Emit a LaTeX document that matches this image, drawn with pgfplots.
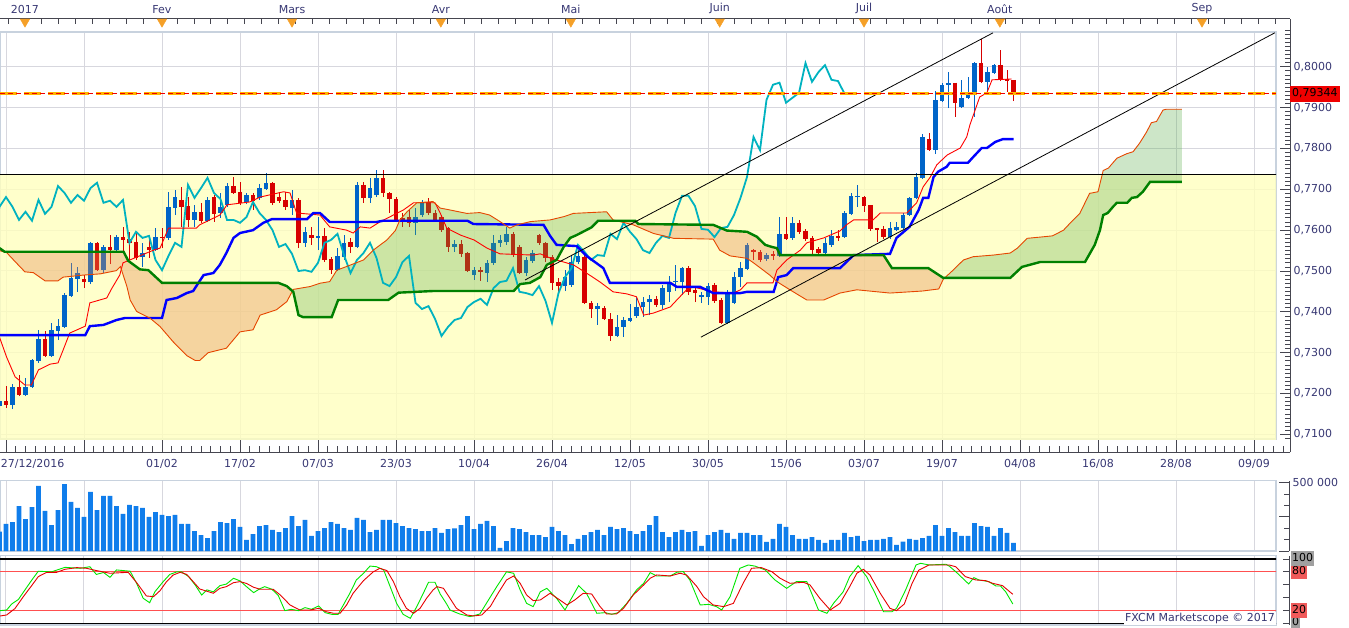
\documentclass[border=0pt]{standalone}
\usepackage{fontspec}
\setmainfont{DejaVu Sans}
\usepackage{pgfplots}
\pgfplotsset{compat=1.18}
\usepackage{pgfplotstable}
\setlength{\fboxsep}{1pt}
\definecolor{labelc}{RGB}{55,55,115}
\definecolor{gridc}{RGB}{215,215,222}
\definecolor{framec}{RGB}{200,210,222}
\definecolor{axc}{RGB}{70,70,80}
\definecolor{ybg}{RGB}{255,255,190}
\definecolor{cblue}{RGB}{0,100,200}
\definecolor{cred}{RGB}{215,0,0}
\definecolor{chik}{RGB}{0,178,192}
\definecolor{tenk}{RGB}{255,0,0}
\definecolor{kij}{RGB}{0,0,255}
\definecolor{spa}{RGB}{230,70,0}
\definecolor{spb}{RGB}{0,128,0}
\definecolor{cloudg}{RGB}{88,172,74}
\definecolor{cloudo}{RGB}{226,135,78}
\definecolor{volc}{RGB}{16,125,235}
\definecolor{stg}{RGB}{0,230,0}
\definecolor{str}{RGB}{230,0,0}
\definecolor{stl}{RGB}{255,80,80}
\definecolor{pricered}{RGB}{240,0,0}
\definecolor{boxgray}{RGB}{160,160,160}
\definecolor{boxred}{RGB}{240,90,90}
\definecolor{trio}{RGB}{245,160,40}
\definecolor{dasho}{RGB}{255,180,0}

\pgfplotsset{
  every axis/.append style={font=\fontsize{11}{13}\selectfont, tick label style={font=\fontsize{11}{13}\selectfont, text=labelc}},
}

\pgfplotstableread{
i O H L C up
-1 0.7170 0.7187 0.7167 0.7182 1
0 0.7182 0.7219 0.7165 0.7172 0
1 0.7172 0.7224 0.7162 0.7216 1
2 0.7216 0.7246 0.7194 0.7197 0
3 0.7197 0.7238 0.7194 0.7216 1
4 0.7216 0.7285 0.7214 0.7282 1
5 0.7280 0.7356 0.7275 0.7334 1
6 0.7334 0.7353 0.7289 0.7292 0
7 0.7292 0.7373 0.7289 0.7356 1
8 0.7353 0.7383 0.7331 0.7365 1
9 0.7363 0.7446 0.7360 0.7441 1
10 0.7439 0.7520 0.7437 0.7483 1
11 0.7480 0.7510 0.7449 0.7495 1
12 0.7480 0.7490 0.7458 0.7473 0
13 0.7473 0.7571 0.7468 0.7569 1
14 0.7569 0.7571 0.7500 0.7502 0
15 0.7502 0.7564 0.7495 0.7559 1
16 0.7559 0.7588 0.7517 0.7551 0
17 0.7551 0.7588 0.7549 0.7583 1
18 0.7583 0.7608 0.7544 0.7576 0
19 0.7578 0.7596 0.7527 0.7569 0
20 0.7571 0.7593 0.7527 0.7532 0
21 0.7534 0.7569 0.7510 0.7544 1
22 0.7559 0.7581 0.7532 0.7551 0
23 0.7551 0.7605 0.7549 0.7583 1
24 0.7583 0.7605 0.7556 0.7580 0
25 0.7581 0.7694 0.7576 0.7657 1
26 0.7654 0.7699 0.7637 0.7681 1
27 0.7674 0.7706 0.7608 0.7657 0
28 0.7659 0.7681 0.7608 0.7625 0
29 0.7625 0.7662 0.7608 0.7645 1
30 0.7645 0.7667 0.7618 0.7623 0
31 0.7623 0.7681 0.7620 0.7674 1
32 0.7681 0.7686 0.7620 0.7640 0
33 0.7642 0.7691 0.7630 0.7657 1
34 0.7662 0.7716 0.7657 0.7708 1
35 0.7708 0.7730 0.7689 0.7691 0
36 0.7694 0.7718 0.7662 0.7667 0
37 0.7669 0.7691 0.7664 0.7686 1
38 0.7686 0.7691 0.7650 0.7672 0
39 0.7679 0.7713 0.7674 0.7703 1
40 0.7701 0.7740 0.7699 0.7716 1
41 0.7716 0.7718 0.7662 0.7667 0
42 0.7681 0.7694 0.7667 0.7672 0
43 0.7674 0.7694 0.7650 0.7657 0
44 0.7654 0.7699 0.7637 0.7674 1
45 0.7674 0.7679 0.7556 0.7569 0
46 0.7569 0.7608 0.7559 0.7596 1
47 0.7588 0.7608 0.7564 0.7581 0
48 0.7581 0.7632 0.7551 0.7586 1
49 0.7586 0.7605 0.7522 0.7527 0
50 0.7529 0.7534 0.7493 0.7502 0
51 0.7502 0.7556 0.7500 0.7537 1
52 0.7534 0.7588 0.7527 0.7569 1
53 0.7571 0.7581 0.7544 0.7559 0
54 0.7559 0.7718 0.7556 0.7711 1
55 0.7711 0.7718 0.7667 0.7679 0
56 0.7679 0.7728 0.7667 0.7703 1
57 0.7686 0.7748 0.7681 0.7728 1
58 0.7728 0.7748 0.7681 0.7691 0
59 0.7691 0.7694 0.7642 0.7676 0
60 0.7676 0.7681 0.7620 0.7625 0
61 0.7630 0.7642 0.7608 0.7625 0
62 0.7632 0.7649 0.7608 0.7618 0
63 0.7618 0.7654 0.7588 0.7632 1
64 0.7637 0.7674 0.7632 0.7669 1
65 0.7669 0.7679 0.7637 0.7642 0
66 0.7642 0.7649 0.7620 0.7625 0
67 0.7632 0.7637 0.7596 0.7600 0
68 0.7605 0.7608 0.7547 0.7559 0
69 0.7559 0.7576 0.7547 0.7566 1
70 0.7566 0.7576 0.7534 0.7542 0
71 0.7544 0.7547 0.7498 0.7500 0
72 0.7490 0.7510 0.7478 0.7502 1
73 0.7502 0.7510 0.7476 0.7498 0
74 0.7495 0.7527 0.7473 0.7520 1
75 0.7520 0.7588 0.7515 0.7569 1
76 0.7569 0.7588 0.7559 0.7576 1
77 0.7571 0.7608 0.7564 0.7591 1
78 0.7591 0.7596 0.7534 0.7539 0
79 0.7559 0.7564 0.7493 0.7495 0
80 0.7495 0.7534 0.7488 0.7527 1
81 0.7524 0.7551 0.7520 0.7544 1
82 0.7588 0.7591 0.7564 0.7569 0
83 0.7569 0.7571 0.7522 0.7532 0
84 0.7534 0.7539 0.7454 0.7471 0
85 0.7473 0.7483 0.7449 0.7463 0
86 0.7463 0.7502 0.7451 0.7485 1
87 0.7466 0.7537 0.7461 0.7522 1
88 0.7522 0.7551 0.7517 0.7537 1
89 0.7534 0.7539 0.7419 0.7422 0
90 0.7422 0.7427 0.7385 0.7407 0
91 0.7407 0.7422 0.7368 0.7414 1
92 0.7410 0.7414 0.7380 0.7383 0
93 0.7383 0.7397 0.7329 0.7341 0
94 0.7341 0.7392 0.7339 0.7363 1
95 0.7363 0.7388 0.7339 0.7380 1
96 0.7378 0.7419 0.7375 0.7385 1
97 0.7390 0.7437 0.7385 0.7412 1
98 0.7412 0.7437 0.7388 0.7424 1
99 0.7424 0.7441 0.7392 0.7432 1
100 0.7432 0.7439 0.7412 0.7417 0
101 0.7417 0.7466 0.7407 0.7458 1
102 0.7449 0.7488 0.7424 0.7473 1
103 0.7473 0.7515 0.7451 0.7476 1
104 0.7473 0.7510 0.7441 0.7507 1
105 0.7507 0.7512 0.7441 0.7449 0
106 0.7454 0.7461 0.7424 0.7446 0
107 0.7437 0.7449 0.7422 0.7441 1
108 0.7437 0.7471 0.7417 0.7463 1
109 0.7466 0.7471 0.7422 0.7427 0
110 0.7429 0.7434 0.7370 0.7373 0
111 0.7373 0.7454 0.7370 0.7446 1
112 0.7422 0.7498 0.7419 0.7485 1
113 0.7485 0.7522 0.7461 0.7507 1
114 0.7505 0.7569 0.7502 0.7564 1
115 0.7551 0.7554 0.7527 0.7547 0
116 0.7547 0.7551 0.7522 0.7527 0
117 0.7529 0.7544 0.7524 0.7539 1
118 0.7542 0.7549 0.7527 0.7537 0
119 0.7537 0.7632 0.7534 0.7591 1
120 0.7591 0.7632 0.7576 0.7578 0
121 0.7581 0.7632 0.7576 0.7618 1
122 0.7618 0.7625 0.7591 0.7596 0
123 0.7598 0.7603 0.7574 0.7578 0
124 0.7581 0.7586 0.7542 0.7551 0
125 0.7554 0.7559 0.7537 0.7544 0
126 0.7544 0.7581 0.7539 0.7569 1
127 0.7564 0.7600 0.7559 0.7586 1
128 0.7586 0.7600 0.7574 0.7581 0
129 0.7583 0.7647 0.7581 0.7642 1
130 0.7640 0.7691 0.7637 0.7684 1
131 0.7681 0.7711 0.7657 0.7684 1
132 0.7681 0.7684 0.7645 0.7659 0
133 0.7662 0.7662 0.7598 0.7603 0
134 0.7605 0.7605 0.7571 0.7601 0
135 0.7603 0.7610 0.7578 0.7583 0
136 0.7583 0.7620 0.7578 0.7605 1
137 0.7600 0.7620 0.7598 0.7608 1
138 0.7605 0.7642 0.7603 0.7637 1
139 0.7637 0.7681 0.7635 0.7679 1
140 0.7679 0.7740 0.7676 0.7730 1
141 0.7728 0.7836 0.7725 0.7828 1
142 0.7823 0.7838 0.7794 0.7796 0
143 0.7796 0.7941 0.7786 0.7919 1
144 0.7916 0.7961 0.7914 0.7956 1
145 0.7956 0.7987 0.7899 0.7961 1
146 0.7961 0.7961 0.7877 0.7912 0
147 0.7902 0.7968 0.7899 0.7924 1
148 0.7924 0.7975 0.7921 0.7936 1
149 0.7936 0.8012 0.7877 0.8009 1
150 0.8009 0.8067 0.7960 0.7963 0
151 0.7963 0.8000 0.7931 0.7987 1
152 0.7985 0.8007 0.7982 0.8004 1
153 0.8004 0.8041 0.7965 0.7968 0
154 0.7970 0.7992 0.7939 0.7965 0
155 0.7968 0.7968 0.7916 0.79344 0
}\candles

\pgfplotstableread{
x y
-1 0.7550
0.1 0.7545
1.4 0.7523
2.9 0.7498
4.2 0.7496
6 0.7476
8 0.7476
8.8 0.7485
11.9 0.7490
14.5 0.7493
17 0.7501
17.6 0.7511
18.6 0.7462
19.1 0.7429
20.1 0.7401
22.2 0.7384
23.7 0.7364
25.7 0.7327
27.8 0.7293
29.1 0.7281
29.8 0.7281
31.1 0.7300
33.9 0.7311
36 0.7351
38 0.7356
39.1 0.7392
41.6 0.7405
43.2 0.7425
44.2 0.7455
46.8 0.7462
48.3 0.7470
49.8 0.7474
50.9 0.7502
52.4 0.7511
55 0.7527
56.5 0.7551
58.6 0.7576
59.9 0.7599
60.6 0.7625
61.7 0.7645
63.2 0.7667
65.7 0.7670
66.8 0.7654
67.8 0.7651
70.9 0.7641
72.9 0.7643
74.4 0.7637
76 0.7621
77.5 0.7605
78.6 0.7613
80.7 0.7621
83.7 0.7625
85.8 0.7633
87.3 0.7641
92.4 0.7645
93.4 0.7625
96.5 0.7613
99.6 0.7592
102.7 0.7580
108.8 0.7578
109.8 0.7551
111.4 0.7537
114 0.7531
115 0.7520
117.5 0.7490
118.6 0.7474
120.6 0.7454
123.2 0.7429
125.8 0.7429
128.3 0.7446
130.9 0.7454
136 0.7446
141 0.7451
143.5 0.7456
144.2 0.7480
145.7 0.7502
147.3 0.7527
148.8 0.7535
151.9 0.7539
154.5 0.7544
155.6 0.7556
157.1 0.7580
159.1 0.7583
161 0.7586
162.7 0.7600
163.7 0.7617
165.2 0.7641
166.7 0.7690
168 0.7694
168.8 0.7746
169.6 0.7752
170.9 0.7776
172.4 0.7787
173.4 0.7792
174.4 0.7813
175.5 0.7841
176.2 0.7863
177 0.7866
178 0.7894
178.5 0.7896
180.9 0.7896
}\spanA

\pgfplotstableread{
x y
-1 0.7556
-0.2 0.7547
18.1 0.7547
18.8 0.7525
20.6 0.7504
21.9 0.7502
24 0.7471
41.9 0.7471
43.2 0.7463
44.2 0.7449
45 0.7392
45.7 0.7387
50.1 0.7387
51.1 0.7429
58.8 0.7429
60.4 0.7447
65.7 0.7451
78.1 0.7451
79.1 0.7468
80.6 0.7471
82.2 0.7485
83.2 0.7515
84.7 0.7527
85.8 0.7559
86.8 0.7581
87.8 0.7588
90.1 0.7607
91.1 0.7623
96.8 0.7623
97.3 0.7615
108.8 0.7613
110.9 0.7599
114 0.7596
115.5 0.7584
116.8 0.7564
117.8 0.7559
118.6 0.7556
119.1 0.7539
135 0.7539
136.3 0.7507
141.9 0.7507
144.2 0.7483
154.5 0.7483
156.3 0.7510
159.1 0.7522
166 0.7522
167.5 0.7564
168.3 0.7600
168.8 0.7637
169.5 0.7642
170.3 0.7657
170.9 0.7667
172.5 0.7667
173.2 0.7679
174 0.7681
174.9 0.7694
176 0.7718
180.9 0.7718
}\spanB

\pgfplotstableread{
i V
-1 141000
0 198000
1 212000
2 329000
3 234000
4 322000
5 476000
6 293000
7 190000
8 300000
9 490000
10 359000
11 315000
12 249000
13 432000
14 300000
15 403000
16 403000
17 329000
18 271000
19 337000
20 329000
21 315000
22 249000
23 285000
24 264000
25 256000
26 264000
27 198000
28 198000
29 146000
30 117000
31 95000
32 146000
33 212000
34 205000
35 234000
36 176000
37 81000
38 124000
39 183000
40 190000
41 154000
42 139000
43 168000
44 256000
45 183000
46 227000
47 110000
48 146000
49 168000
50 212000
51 198000
52 168000
53 154000
54 242000
55 227000
56 139000
57 154000
58 227000
59 227000
60 205000
61 183000
62 168000
63 161000
64 146000
65 146000
66 168000
67 132000
68 161000
69 166000
70 190000
71 256000
72 161000
73 198000
74 220000
75 183000
76 22000
77 73000
78 168000
79 161000
80 139000
81 117000
82 117000
83 102000
84 176000
85 146000
86 117000
87 51000
88 88000
89 117000
90 139000
91 154000
92 117000
93 176000
94 161000
95 168000
96 146000
97 124000
98 146000
99 190000
100 256000
101 139000
102 102000
103 139000
104 154000
105 139000
106 146000
107 37000
108 117000
109 139000
110 154000
111 132000
112 88000
113 132000
114 132000
115 117000
116 117000
117 66000
118 88000
119 198000
120 176000
121 117000
122 88000
123 88000
124 102000
125 81000
126 59000
127 81000
128 81000
129 132000
130 102000
131 110000
132 73000
133 81000
134 81000
135 88000
136 102000
137 44000
138 68000
139 88000
140 81000
141 95000
142 110000
143 190000
144 110000
145 168000
146 139000
147 110000
148 110000
149 205000
150 183000
151 176000
152 110000
153 168000
154 132000
155 59000
}\volume

\begin{document}
\begin{tikzpicture}
\path[use as bounding box] (0,0) rectangle (1349pt,-628pt);

% ---------- top month strip
\begin{axis}[at={(0,-30pt)}, anchor=south west, scale only axis,
  width=1290pt, height=11pt, xmin=-0.923, xmax=197.538, ymin=0, ymax=1,
  axis x line*=top, axis y line=none, clip=false,
  axis line style={axc, line width=1pt}, tick style={axc, line width=0.8pt},
  tick align=inside, major tick length=0pt, minor tick length=5pt,
  xtick={2.92,24,44,66.9,86.9,109.8,132,152.9,184},
  xticklabels={2017,Fev,Mars,Avr,Mai,Juin,Juil,Août,Sep},
  minor xtick={-2.28,0.32,...,197},
  xticklabel style={yshift=2pt}]
\addplot[only marks, mark=triangle*, mark size=5.5pt, mark options={rotate=180, fill=trio, draw=trio}]
 coordinates {(2.92,0.75) (24,0.75) (44,0.75) (66.9,0.75) (86.9,0.75) (109.8,0.75) (132,0.75) (152.9,0.75) (184,0.75)};
\end{axis}

% ---------- main price panel
\begin{axis}[at={(0,-439pt)}, anchor=south west, scale only axis,
  width=1276pt, height=407pt, xmin=-0.923, xmax=195.385, ymin=0.708874, ymax=0.808508,
  xtick={0,12,...,192}, ytick={0.71,0.72,0.73,0.74,0.75,0.76,0.77,0.78,0.79,0.80},
  xticklabels={}, yticklabels={}, major tick length=0pt, tick style={draw=none},
  grid=major, grid style={gridc, line width=1pt},
  axis line style={framec, line width=2pt},
  colormap={updown}{color=(cred) color=(cblue)}, point meta min=0, point meta max=1]
\addplot[draw=none, fill=ybg, fill opacity=0.8] coordinates {(-3,0.70) (-3,0.7737) (200,0.7737) (200,0.70)};
% candles: wicks (low to high) and bodies (open to close), coloured by direction
\addplot[point meta=explicit, quiver={u=0, v=\thisrow{H}-\thisrow{L}, colored=mapped color, every arrow/.append style={line width=1pt}}]
  table[x=i, y=L, meta=up] {\candles};
\addplot[point meta=explicit, quiver={u=0, v=\thisrow{C}-\thisrow{O}, colored=mapped color, every arrow/.append style={line width=4.6pt}}]
  table[x=i, y=O, meta=up] {\candles};
% cloud (span A forward, span B backward)
\addplot[draw=none, fill=cloudo, fill opacity=0.35] coordinates {(-1,0.7550) (0.1,0.7545) (1.4,0.7523) (2.9,0.7498) (4.2,0.7496) (6,0.7476) (8,0.7476) (8.8,0.7485) (11.9,0.7490) (14.5,0.7493) (17,0.7501) (17.6,0.7511) (18.6,0.7462) (19.1,0.7429) (20.1,0.7401) (22.2,0.7384) (23.7,0.7364) (25.7,0.7327) (27.8,0.7293) (29.1,0.7281) (29.8,0.7281) (31.1,0.7300) (33.9,0.7311) (36,0.7351) (38,0.7356) (39.1,0.7392) (41.6,0.7405) (43.2,0.7425) (44.05,0.7451) (43.2,0.7463) (41.9,0.7471) (24,0.7471) (21.9,0.7502) (20.6,0.7504) (18.8,0.7525) (18.1,0.7547) (-0.2,0.7547) (-1,0.7556)};
\addplot[draw=none, fill=cloudg, fill opacity=0.3] coordinates {(44.05,0.7451) (44.2,0.7455) (46.8,0.7462) (48.3,0.7470) (49.8,0.7474) (50.9,0.7502) (52.4,0.7511) (55,0.7527) (56.5,0.7551) (58.6,0.7576) (59.9,0.7599) (60.6,0.7625) (61.7,0.7645) (63.2,0.7667) (65.7,0.7670) (66.8,0.7654) (67.8,0.7651) (70.9,0.7641) (72.9,0.7643) (74.4,0.7637) (76,0.7621) (77.5,0.7605) (78.6,0.7613) (80.7,0.7621) (83.7,0.7625) (85.8,0.7633) (87.3,0.7641) (92.4,0.7645) (93.4,0.7625) (93.9,0.7623) (91.1,0.7623) (90.1,0.7607) (87.8,0.7588) (86.8,0.7581) (85.8,0.7559) (84.7,0.7527) (83.2,0.7515) (82.2,0.7485) (80.6,0.7471) (79.1,0.7468) (78.1,0.7451) (65.7,0.7451) (60.4,0.7447) (58.8,0.7429) (51.1,0.7429) (50.1,0.7387) (45.7,0.7387) (45,0.7392) (44.2,0.7449)};
\addplot[draw=none, fill=cloudo, fill opacity=0.35] coordinates {(93.9,0.7623) (96.5,0.7613) (99.6,0.7592) (102.7,0.7580) (108.8,0.7578) (109.8,0.7551) (111.4,0.7537) (114,0.7531) (115,0.7520) (117.5,0.7490) (118.6,0.7474) (120.6,0.7454) (123.2,0.7429) (125.8,0.7429) (128.3,0.7446) (130.9,0.7454) (136,0.7446) (141,0.7451) (143.5,0.7456) (144.2,0.7480) (144.4,0.7483) (144.2,0.7483) (141.9,0.7507) (136.3,0.7507) (135,0.7539) (119.1,0.7539) (118.6,0.7556) (117.8,0.7559) (116.8,0.7564) (115.5,0.7584) (114,0.7596) (110.9,0.7599) (108.8,0.7613) (97.3,0.7615) (96.8,0.7623)};
\addplot[draw=none, fill=cloudg, fill opacity=0.3] coordinates {(144.4,0.7483) (145.7,0.7502) (147.3,0.7527) (148.8,0.7535) (151.9,0.7539) (154.5,0.7544) (155.6,0.7556) (157.1,0.7580) (159.1,0.7583) (161,0.7586) (162.7,0.7600) (163.7,0.7617) (165.2,0.7641) (166.7,0.7690) (168,0.7694) (168.8,0.7746) (169.6,0.7752) (170.9,0.7776) (172.4,0.7787) (173.4,0.7792) (174.4,0.7813) (175.5,0.7841) (176.2,0.7863) (177,0.7866) (178,0.7894) (178.5,0.7896) (180.9,0.7896) (180.9,0.7718) (176,0.7718) (174.9,0.7694) (174,0.7681) (173.2,0.7679) (172.5,0.7667) (170.9,0.7667) (170.3,0.7657) (169.5,0.7642) (168.8,0.7637) (168.3,0.7600) (167.5,0.7564) (166,0.7522) (159.1,0.7522) (156.3,0.7510) (154.5,0.7483)};
% chikou
\addplot[chik, line width=1.8pt] table[x expr=\thisrow{i}-26, y=C] {\candles};
% tenkan
\addplot[tenk, line width=0.9pt] coordinates {(-1,0.7338) (0.1,0.7289) (1.4,0.7241) (2.9,0.7221) (3.9,0.7221) (5,0.7258) (6.8,0.7272) (8,0.7275) (8.8,0.7307) (9.8,0.7348) (12.2,0.7365) (12.9,0.7422) (15.5,0.7434) (16.3,0.7458) (17.5,0.7490) (18,0.7520) (20.1,0.7534) (22.7,0.7551) (23.7,0.7556) (25,0.7605) (29.3,0.7605) (29.8,0.7613) (32.9,0.7637) (34,0.7662) (37.5,0.7669) (39.1,0.7681) (42.7,0.7694) (43.7,0.7691) (44.7,0.7642) (48.3,0.7637) (49.8,0.7608) (52.4,0.7600) (53.4,0.7593) (54.5,0.7608) (56,0.7605) (57.5,0.7620) (59.6,0.7637) (61.1,0.7649) (62.7,0.7667) (66,0.7667) (66.8,0.7642) (67.8,0.7605) (69.9,0.7588) (72,0.7576) (74,0.7556) (76,0.7542) (81.1,0.7539) (82.2,0.7542) (83.7,0.7532) (84.7,0.7527) (87.3,0.7515) (89.3,0.7495) (91.4,0.7473) (93.4,0.7449) (95.5,0.7444) (97,0.7437) (98.1,0.7392) (99.6,0.7397) (102.2,0.7412) (103.2,0.7429) (104.7,0.7454) (105.7,0.7461) (108.8,0.7449) (111.9,0.7446) (113,0.7454) (114,0.7471) (118,0.7471) (118.6,0.7502) (120.1,0.7527) (122.2,0.7551) (123.2,0.7569) (125.8,0.7581) (128.3,0.7598) (129.3,0.7613) (130.4,0.7625) (133.4,0.7625) (134.5,0.7642) (138.6,0.7642) (140.1,0.7667) (141.1,0.7706) (142.2,0.7730) (143.2,0.7760) (144.8,0.7784) (146.8,0.7801) (147.8,0.7828) (148.3,0.7858) (149.8,0.7926) (150.9,0.7936) (151.7,0.7968) (154.7,0.7970)};
% kijun
\addplot[kij, line width=2.4pt] coordinates {(-1,0.7343) (12.2,0.7343) (12.9,0.7365) (15,0.7368) (17,0.7380) (18.3,0.7385) (24,0.7385) (24.7,0.7429) (26.3,0.7434) (27.8,0.7446) (28.8,0.7451) (29.6,0.7471) (30.4,0.7490) (31.9,0.7495) (32.9,0.7515) (33.9,0.7544) (35,0.7581) (36,0.7593) (38,0.7600) (39.6,0.7618) (40.9,0.7627) (46.3,0.7627) (47.3,0.7642) (48.3,0.7642) (49.8,0.7620) (57,0.7620) (58,0.7623) (71,0.7623) (71.9,0.7615) (82.7,0.7613) (83.7,0.7586) (84.7,0.7564) (87.8,0.7561) (89.3,0.7537) (91.9,0.7507) (92.9,0.7471) (102.2,0.7471) (103.2,0.7461) (106.8,0.7461) (108.8,0.7446) (113,0.7446) (114,0.7449) (118.1,0.7449) (118.8,0.7485) (120.1,0.7490) (121.1,0.7507) (128.3,0.7507) (129.3,0.7522) (130.4,0.7539) (136,0.7542) (137,0.7581) (139,0.7608) (140.4,0.7649) (141.1,0.7679) (141.9,0.7679) (142.7,0.7730) (143.4,0.7743) (144.7,0.7755) (145.2,0.7765) (148,0.7765) (148.8,0.7779) (150.1,0.7801) (150.9,0.7801) (152.2,0.7816) (153.4,0.7823) (155,0.7823)};
% senkou spans
\addplot[spa, line width=0.9pt] table {\spanA};
\addplot[spb, line width=2.4pt] table {\spanB};
% horizontal level and channel lines
\addplot[black, line width=1pt] coordinates {(-3,0.7737) (200,0.7737)};
\addplot[black, line width=0.8pt] coordinates {(79.85,0.7478) (151.85,0.8083)};
\addplot[black, line width=0.8pt] coordinates {(106.9,0.7338) (195.2,0.8083)};
% current price
\addplot[dasho, line width=2.6pt, dash pattern=on 17pt off 7pt] coordinates {(-0.923,0.79344) (195.385,0.79344)};
\addplot[pricered, line width=0.9pt, dash pattern=on 5pt off 3pt] coordinates {(-0.923,0.79344) (195.385,0.79344)};
\end{axis}

% ---------- price scale
\begin{axis}[at={(0,-452pt)}, anchor=south west, scale only axis,
  width=1290pt, height=433pt, xmin=-0.923, xmax=197.538, ymin=0.705692, ymax=0.811690,
  axis x line=none, axis y line*=right, clip=false,
  axis line style={axc, line width=1pt}, tick style={axc, line width=0.8pt},
  tick align=inside, major tick length=10pt, minor tick length=5pt,
  ytick={0.71,0.72,0.73,0.74,0.75,0.76,0.77,0.78,0.79,0.80},
  yticklabels={{0,7100},{0,7200},{0,7300},{0,7400},{0,7500},{0,7600},{0,7700},{0,7800},{0,7900},{0,8000}},
  minor ytick={0.709,0.710,...,0.8085}]
\addplot[draw=none] coordinates {(10,0.75) (20,0.76)};
\node[fill=pricered, text=black, anchor=west, inner xsep=2pt, inner ysep=2pt, text height=9pt, text depth=3pt] at (axis cs:197.538,0.79344) {0,79344};
\end{axis}

% ---------- bottom date strip
\begin{axis}[at={(0,-452.3pt)}, anchor=south west, scale only axis,
  width=1290pt, height=12.3pt, xmin=-0.923, xmax=197.538, ymin=0, ymax=1,
  axis x line*=bottom, axis y line=none,
  axis line style={axc, line width=1pt}, tick style={axc, line width=0.8pt},
  tick align=inside, major tick length=12pt, minor tick length=6pt,
  xtick={0,12,...,192},
  xticklabels={\makebox[0pt][l]{\hspace*{-5pt}27/12/2016},{},01/02,17/02,07/03,23/03,10/04,26/04,12/05,30/05,15/06,03/07,19/07,04/08,16/08,28/08,09/09},
  minor xtick={0,1.5,...,196.5},
  xticklabel style={yshift=-4pt}]
\addplot[draw=none] coordinates {(10,0.5) (20,0.5)};
\end{axis}

% ---------- volume panel
\begin{axis}[at={(0,-551pt)}, anchor=south west, scale only axis,
  width=1276pt, height=70.3pt, xmin=-0.923, xmax=195.385, ymin=0, ymax=514700,
  xtick={0,12,...,192}, ytick=\empty, xticklabels={}, major tick length=0pt, tick style={draw=none},
  xmajorgrids, grid style={gridc, line width=1pt},
  axis line style={framec, line width=1.5pt}]
\addplot[ybar, bar width=4.6pt, fill=volc, draw=none] table[x=i, y=V] {\volume};
\end{axis}
\begin{axis}[at={(0,-551pt)}, anchor=south west, scale only axis,
  width=1289pt, height=70.3pt, xmin=-0.923, xmax=197.38, ymin=0, ymax=514700,
  axis x line=none, axis y line*=right,
  axis line style={axc, line width=1pt}, tick style={axc, line width=0.8pt},
  tick align=inside, major tick length=10pt, minor tick length=5pt,
  ytick={0,250000,500000}, yticklabels={{},{},500 000}, minor y tick num=2,
  scaled y ticks=false]
\addplot[draw=none] coordinates {(10,100000) (20,200000)};
\end{axis}

% ---------- stochastic panel
\begin{axis}[at={(0,-625pt)}, anchor=south west, scale only axis,
  width=1276pt, height=69.3pt, xmin=-0.923, xmax=195.385, ymin=-2.6, ymax=105.1,
  xtick={0,12,...,192}, ytick=\empty, xticklabels={}, major tick length=0pt, tick style={draw=none},
  xmajorgrids, grid style={gridc, line width=1pt},
  axis line style={framec, line width=1.5pt}]
\addplot[black, line width=1.2pt] coordinates {(-3,100) (200,100)};
\addplot[black, line width=1.2pt] coordinates {(-3,0) (200,0)};
\addplot[stl, line width=0.9pt] coordinates {(-3,80) (200,80)};
\addplot[stl, line width=0.9pt] coordinates {(-3,20) (200,20)};
\addplot[stg, line width=0.9pt] coordinates {(-0.92,19.7) (0.1,20.7) (0.87,30) (1.9,37) (2.92,52) (3.95,67) (4.97,81) (7.0,80) (9.08,87) (11.4,85.5) (12.9,88) (13.9,76) (15.0,79) (16.0,71.5) (17.0,83) (19.1,81) (20.1,62) (21.1,39) (22.1,32) (22.9,49) (24.2,65) (25.2,76) (26.3,80) (27.0,80) (28.1,72.6) (29.1,59.6) (30.1,44) (30.9,52) (31.9,49) (32.9,58.6) (33.9,61) (35.0,70) (36.0,66) (37.0,57) (38.1,47.7) (39.1,54) (39.8,57) (40.9,53) (41.9,43) (42.9,19.7) (43.9,21.8) (45.0,19.7) (46.0,24.4) (47.0,21.8) (48.1,27) (49.1,16.6) (50.1,14) (51.1,14) (51.9,28.5) (52.9,46.7) (53.9,67.4) (55.0,77.8) (56.0,89) (57.0,88) (58.1,83) (59.1,57) (60.1,31) (61.1,14) (62.2,7.8) (63.2,26) (64.2,46.7) (65.0,63.8) (66.0,63.8) (66.8,45.6) (67.8,30) (68.3,20.7) (69.8,14.5) (71.4,10.4) (72.9,14.5) (73.9,31) (75.5,57) (77.0,80) (78.1,77.8) (79.1,51.8) (80.1,31) (81.1,26) (82.2,49) (83.2,54.4) (84.7,38.9) (86.0,20.7) (87.0,38.9) (88.1,58.6) (89.3,46.7) (90.9,15.6) (92.2,16.6) (93.2,14) (94.2,16.6) (95.5,31) (97.0,51.8) (98.1,62.2) (99.1,78.8) (100.1,73.6) (102.2,73.6) (103.2,79.3) (104.2,80.4) (105.2,67.4) (106.8,28.5) (108.1,29.5) (109.3,26) (110.1,20.7) (111.4,41.5) (112.9,85.5) (114.2,90.7) (115.2,89) (116.8,83) (118.3,67.4) (120.1,54.4) (121.6,64.8) (123.2,64.8) (125.0,20.7) (126.3,15.6) (127.3,31) (128.8,49) (129.8,72.6) (131.1,89.7) (132.4,72.6) (133.7,46.7) (135.0,18) (136.3,18) (137.0,23.3) (137.4,31) (138.4,51.8) (140.0,90.7) (140.7,93.3) (142.0,90.7) (144.6,91.8) (145.1,89) (146.1,80.4) (148.1,61.2) (148.9,71) (149.7,67.4) (151.2,64.8) (152.3,58) (153.0,58) (153.8,49) (154.9,30)};
\addplot[str, line width=0.9pt] coordinates {(-0.92,11.4) (0.1,13) (1.38,23) (2.67,41.5) (3.95,58.6) (4.97,72.6) (6.26,79.3) (7.8,79.3) (9.08,84) (10.9,86.6) (12.4,85.5) (13.9,82) (16.0,77.8) (18.8,79.3) (20.1,63.2) (21.6,42.5) (22.7,41.5) (23.7,50.8) (24.7,64.8) (25.7,75) (26.8,79.3) (27.8,76) (28.8,64.8) (29.8,53.4) (31.9,46.7) (32.9,54.4) (33.9,57) (35.0,63.2) (36.0,64.8) (37.0,62) (38.1,56) (39.1,53) (41.1,53) (42.2,44) (43.7,28.5) (45.2,20.7) (46.8,20.7) (48.1,23.3) (49.3,18) (50.4,15.6) (51.4,15.6) (52.4,28.5) (53.4,46.7) (55.0,66.4) (56.5,80) (57.5,85.5) (58.6,82) (59.6,64.8) (60.6,41.5) (61.6,23.3) (62.7,15.6) (63.7,23.3) (64.7,38.9) (65.7,51.8) (66.3,57) (67.3,54.4) (68.3,39) (69.3,23.3) (70.9,13) (71.9,11.4) (73.2,13) (74.5,26) (75.7,46.7) (77.0,67.4) (78.1,73.6) (79.1,62.2) (80.1,44) (81.1,35.3) (82.2,36.3) (83.7,46.7) (85.2,36.3) (86.3,28.5) (87.5,36.3) (88.8,46.7) (90.1,45.6) (91.4,26) (92.4,14.5) (93.9,14.5) (95.0,23.3) (96.5,44) (98.1,59.6) (99.1,70) (100.1,75.2) (102.2,73.6) (103.7,77.8) (104.7,75.2) (106.3,57) (107.3,41.5) (108.8,28.5) (110.4,26) (111.9,31) (113.4,62.2) (114.7,85.5) (116.2,86.6) (117.8,80.4) (119.1,70) (120.6,62.2) (122.7,63.8) (123.7,59.6) (125.2,38.9) (126.8,20.7) (128.3,31) (129.8,57) (130.9,77.8) (131.9,84) (132.9,75.2) (134.5,46.7) (136.0,23.3) (137.0,19.7) (137.4,23.3) (138.2,30) (139.4,62.2) (140.4,82.4) (142.0,90.7) (145.1,90.7) (146.1,88) (147.6,72.6) (149.2,67.4) (150.7,66.4) (151.8,62.2) (153.3,58.6) (154.9,45.1)};
\node[anchor=south east, fill=white, inner sep=1pt, text=labelc] at (rel axis cs:1,0) {FXCM Marketscope © 2017};
\end{axis}
\begin{axis}[at={(0,-625pt)}, anchor=south west, scale only axis,
  width=1289pt, height=69.3pt, xmin=-0.923, xmax=197.38, ymin=-2.6, ymax=105.1,
  axis x line=none, axis y line*=right,
  axis line style={axc, line width=1pt}, tick style={axc, line width=0.8pt},
  tick align=inside, major tick length=6pt,
  ytick={0,20,40,60,80,100},
  yticklabels={\colorbox{boxgray}{\strut 0},\colorbox{boxred}{\strut 20},{},{},\colorbox{boxred}{\strut 80},\colorbox{boxgray}{\strut 100}},
  yticklabel style={text=black, inner xsep=2pt}]
\addplot[draw=none] coordinates {(10,50) (20,50)};
\end{axis}
\end{tikzpicture}
\end{document}
